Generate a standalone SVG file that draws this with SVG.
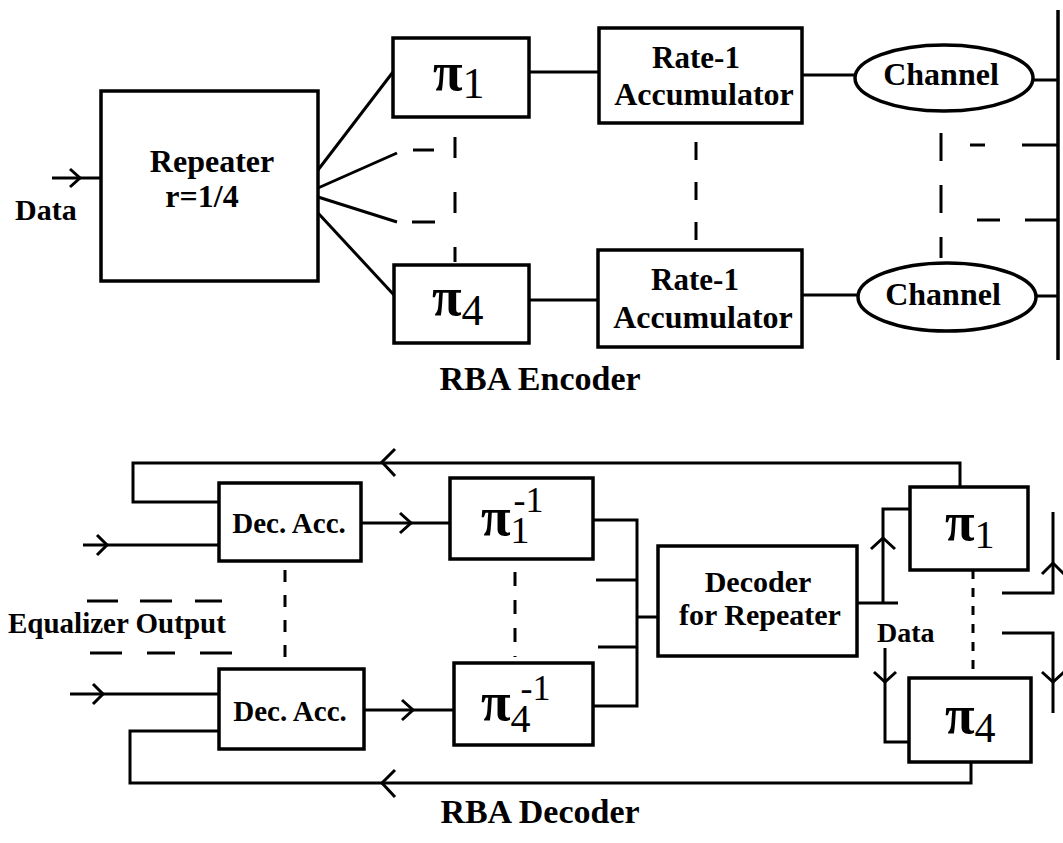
<svg xmlns="http://www.w3.org/2000/svg" width="1063" height="843" viewBox="0 0 1063 843">
<style>
.bx{fill:#fff;stroke:#000;stroke-width:3.5}
.ln{fill:none;stroke:#000;stroke-width:3;stroke-linecap:butt}
.ah{fill:none;stroke:#000;stroke-width:3;stroke-linejoin:miter}
.t{font-family:"Liberation Serif","Times New Roman",serif;font-weight:bold;fill:#000}
.pi{font-family:"Liberation Serif","Times New Roman",serif;font-weight:bold;fill:#000;font-size:54px}
.sub{font-family:"Liberation Serif","Times New Roman",serif;font-weight:normal;fill:#000}
</style>
<rect width="1063" height="843" fill="#fff"/>

<g id="connectors">
  <!-- encoder -->
  <line class="ln" x1="52" y1="178" x2="101" y2="178"/>
  <polyline class="ah" points="70,169 80,178 70,187"/>
  <line class="ln" x1="318" y1="170" x2="393" y2="72"/>
  <line class="ln" x1="318" y1="188" x2="397" y2="153"/>
  <line class="ln" x1="413" y1="150" x2="434" y2="150"/>
  <line class="ln" x1="318" y1="197" x2="397" y2="222"/>
  <line class="ln" x1="412" y1="222" x2="435" y2="222"/>
  <line class="ln" x1="318" y1="213" x2="394" y2="295"/>
  <line class="ln" x1="529" y1="72" x2="599" y2="72"/>
  <line class="ln" x1="529" y1="300" x2="598" y2="300"/>
  <line class="ln" x1="802" y1="75" x2="855" y2="75"/>
  <line class="ln" x1="802" y1="295" x2="858" y2="295"/>
  <line class="ln" x1="1033" y1="80" x2="1058" y2="80"/>
  <line class="ln" x1="1036" y1="296" x2="1058" y2="296"/>
  <line class="ln" x1="1058" y1="10" x2="1058" y2="360" style="stroke-width:3.5"/>
  <line class="ln" x1="970" y1="145" x2="985" y2="145"/>
  <line class="ln" x1="1022" y1="145" x2="1058" y2="145"/>
  <line class="ln" x1="977" y1="220" x2="1000" y2="220"/>
  <line class="ln" x1="1025" y1="220" x2="1058" y2="220"/>
  <line class="ln" x1="455" y1="137" x2="455" y2="262" stroke-dasharray="21 34"/>
  <line class="ln" x1="696" y1="142" x2="696" y2="247" stroke-dasharray="18 22"/>
  <line class="ln" x1="941" y1="133" x2="941" y2="258" stroke-dasharray="28 24"/>

  <!-- decoder feedback loops -->
  <polyline class="ln" points="960,487 960,463 133,463 133,502 219,502"/>
  <polyline class="ah" points="395,449 382,462 395,476"/>
  <polyline class="ln" points="971,762 971,783 130,783 130,731 219,731"/>
  <polyline class="ah" points="395,770 382,783 395,797"/>
  <!-- inputs -->
  <line class="ln" x1="83" y1="545" x2="219" y2="545"/>
  <polyline class="ah" points="97,535 107,545 97,555"/>
  <line class="ln" x1="70" y1="694" x2="219" y2="694"/>
  <polyline class="ah" points="93,684 103,694 93,704"/>
  <!-- dec acc to deinterleavers -->
  <line class="ln" x1="361" y1="523" x2="450" y2="523"/>
  <polyline class="ah" points="400,513 411,523 400,533"/>
  <line class="ln" x1="364" y1="710" x2="454" y2="710"/>
  <polyline class="ah" points="402,700 413,710 402,720"/>
  <!-- bus -->
  <polyline class="ln" points="593,520 637,520 637,706 593,706"/>
  <line class="ln" x1="596" y1="580" x2="637" y2="580"/>
  <line class="ln" x1="598" y1="647" x2="637" y2="647"/>
  <line class="ln" x1="637" y1="617" x2="658" y2="617"/>
  <!-- decoder output -->
  <line class="ln" x1="857" y1="603" x2="898" y2="603"/>
  <polyline class="ln" points="883,603 883,509 910,509"/>
  <polyline class="ah" points="871,549 883,538 895,549"/>
  <polyline class="ln" points="885,648 885,742 909,742"/>
  <polyline class="ah" points="874,672 885,682 896,672"/>
  <!-- right side -->
  <polyline class="ln" points="1002,593 1053,593 1053,512"/>
  <polyline class="ah" points="1042,574 1053,563 1064,574"/>
  <polyline class="ln" points="1002,633 1053,633 1053,713"/>
  <polyline class="ah" points="1042,672 1053,682 1064,672"/>
  <!-- dashed -->
  <line class="ln" x1="285" y1="570" x2="285" y2="667" stroke-dasharray="12 13"/>
  <line class="ln" x1="515" y1="572" x2="515" y2="657" stroke-dasharray="14 14"/>
  <line class="ln" x1="973" y1="570" x2="973" y2="678" stroke-dasharray="9 9"/>
  <line class="ln" x1="87" y1="601" x2="118" y2="601"/>
  <line class="ln" x1="140" y1="601" x2="172" y2="601"/>
  <line class="ln" x1="195" y1="601" x2="222" y2="601"/>
  <line class="ln" x1="90" y1="653" x2="122" y2="653"/>
  <line class="ln" x1="147" y1="653" x2="175" y2="653"/>
  <line class="ln" x1="200" y1="653" x2="232" y2="653"/>
</g>

<!-- encoder nodes -->
<g id="enc-data"><text class="t" x="15" y="220" font-size="30">Data</text></g>
<g id="repeater">
  <rect class="bx" x="101" y="91" width="217" height="190"/>
  <text class="t" x="212" y="172" font-size="32" text-anchor="middle">Repeater</text>
  <text class="t" x="202" y="207" font-size="32" text-anchor="middle">r=1/4</text>
</g>
<g id="pi1">
  <rect class="bx" x="393" y="38" width="136" height="79"/>
  <text class="pi" x="433" y="90">π<tspan class="sub" font-size="44" dy="8">1</tspan></text>
</g>
<g id="pi4">
  <rect class="bx" x="394" y="265" width="135" height="78"/>
  <text class="pi" x="432" y="315">π<tspan class="sub" font-size="44" dy="10">4</tspan></text>
</g>
<g id="acc1">
  <rect class="bx" x="599" y="28" width="203" height="95"/>
  <text class="t" x="696" y="68" font-size="31" text-anchor="middle">Rate-1</text>
  <text class="t" x="704" y="105" font-size="32" text-anchor="middle">Accumulator</text>
</g>
<g id="acc4">
  <rect class="bx" x="598" y="250" width="204" height="97"/>
  <text class="t" x="695" y="290" font-size="31" text-anchor="middle">Rate-1</text>
  <text class="t" x="703" y="328" font-size="32" text-anchor="middle">Accumulator</text>
</g>
<g id="channel1">
  <ellipse class="bx" cx="944" cy="78" rx="89" ry="33"/>
  <text class="t" x="941" y="85" font-size="32" text-anchor="middle">Channel</text>
</g>
<g id="channel4">
  <ellipse class="bx" cx="947" cy="297" rx="89" ry="34"/>
  <text class="t" x="943" y="305" font-size="32" text-anchor="middle">Channel</text>
</g>
<g id="enc-title"><text class="t" x="540" y="390" font-size="34" text-anchor="middle">RBA Encoder</text></g>

<!-- decoder nodes -->
<g id="decacc1">
  <rect class="bx" x="219" y="483" width="142" height="78"/>
  <text class="t" x="289" y="533" font-size="29" text-anchor="middle">Dec. Acc.</text>
</g>
<g id="decacc4">
  <rect class="bx" x="219" y="669" width="145" height="80"/>
  <text class="t" x="290" y="721" font-size="29" text-anchor="middle">Dec. Acc.</text>
</g>
<g id="eq-out"><text class="t" x="8" y="633" font-size="29">Equalizer Output</text></g>
<g id="pi1inv">
  <rect class="bx" x="450" y="478" width="143" height="81"/>
  <text class="pi" x="481" y="535">π<tspan class="sub" font-size="38" dy="8">1</tspan><tspan class="sub" font-size="36" dx="-16" dy="-31">-1</tspan></text>
</g>
<g id="pi4inv">
  <rect class="bx" x="454" y="663" width="139" height="82"/>
  <text class="pi" x="481" y="720">π<tspan class="sub" font-size="40" dy="12">4</tspan><tspan class="sub" font-size="36" dx="-10" dy="-32">-1</tspan></text>
</g>
<g id="decoder">
  <rect class="bx" x="658" y="546" width="199" height="110"/>
  <text class="t" x="758" y="592" font-size="30" text-anchor="middle">Decoder</text>
  <text class="t" x="760" y="625" font-size="30" text-anchor="middle">for Repeater</text>
</g>
<g id="dec-data"><text class="t" x="877" y="642" font-size="28">Data</text></g>
<g id="dpi1">
  <rect class="bx" x="910" y="487" width="118" height="83"/>
  <text class="pi" x="945" y="540">π<tspan class="sub" font-size="40" dy="8">1</tspan></text>
</g>
<g id="dpi4">
  <rect class="bx" x="909" y="678" width="122" height="84"/>
  <text class="pi" x="945" y="733">π<tspan class="sub" font-size="42" dy="9">4</tspan></text>
</g>
<g id="dec-title"><text class="t" x="540" y="823" font-size="34" text-anchor="middle">RBA Decoder</text></g>
</svg>
